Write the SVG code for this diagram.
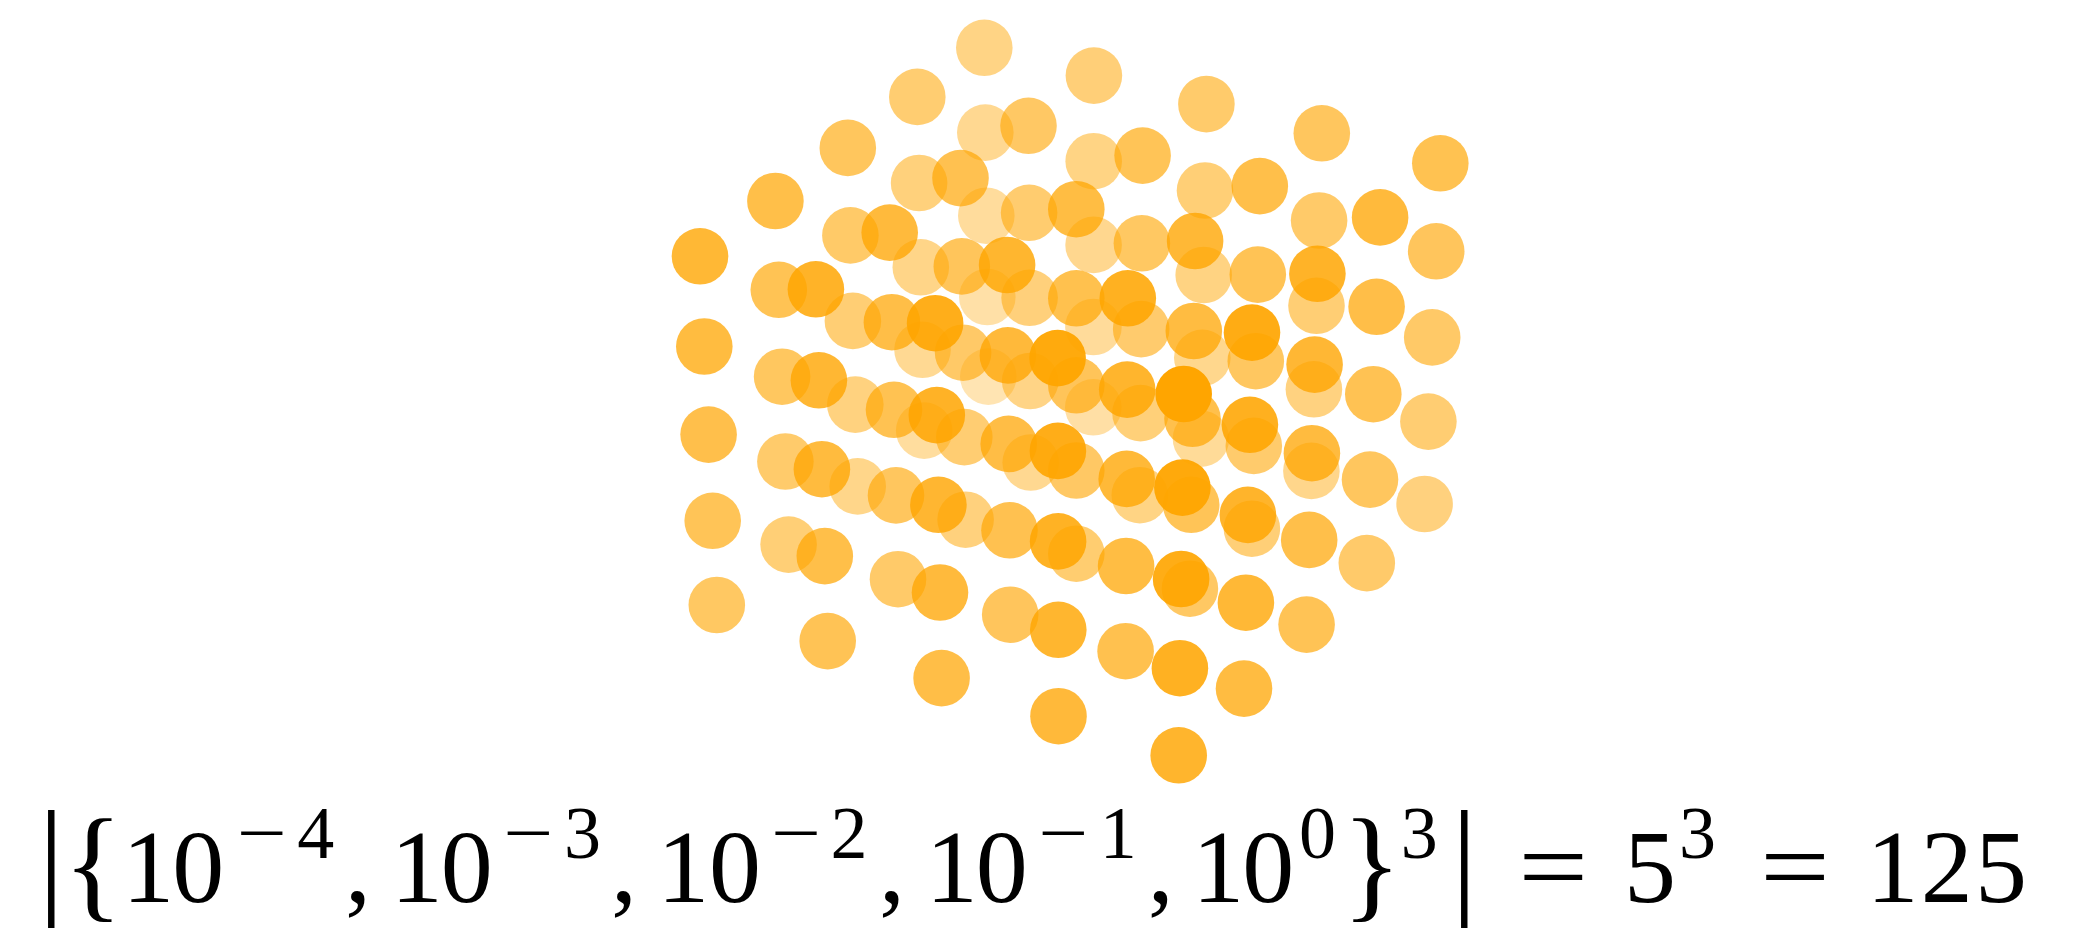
<svg xmlns="http://www.w3.org/2000/svg" width="2085" height="932" viewBox="0 0 2085 932">
<style>
#points circle{fill:#FFA500;}
text{font-family:"Liberation Serif","Times New Roman",serif;fill:#000;text-anchor:middle;}
.m{font-size:104px;}
.s{font-size:74px;}
.d{font-size:130px;}
.b{font-size:124px;}
</style>
<rect width="2085" height="932" fill="#fff"/>
<g id="points">
<circle cx="988.3" cy="376.6" r="28.3" fill-opacity=".300"/>
<circle cx="987.3" cy="297.0" r="28.3" fill-opacity=".344"/>
<circle cx="1093.3" cy="407.3" r="28.3" fill-opacity=".352"/>
<circle cx="924.2" cy="430.6" r="28.3" fill-opacity=".379"/>
<circle cx="986.3" cy="215.7" r="28.3" fill-opacity=".388"/>
<circle cx="1093.4" cy="327.0" r="28.3" fill-opacity=".396"/>
<circle cx="1201.0" cy="438.7" r="28.3" fill-opacity=".403"/>
<circle cx="922.5" cy="349.8" r="28.3" fill-opacity=".423"/>
<circle cx="1030.7" cy="462.5" r="28.3" fill-opacity=".431"/>
<circle cx="985.3" cy="132.6" r="28.3" fill-opacity=".433"/>
<circle cx="1093.6" cy="244.9" r="28.3" fill-opacity=".440"/>
<circle cx="1202.3" cy="357.8" r="28.3" fill-opacity=".448"/>
<circle cx="1311.4" cy="470.9" r="28.3" fill-opacity=".455"/>
<circle cx="857.7" cy="486.4" r="28.3" fill-opacity=".458"/>
<circle cx="920.8" cy="267.3" r="28.3" fill-opacity=".467"/>
<circle cx="1030.2" cy="381.0" r="28.3" fill-opacity=".475"/>
<circle cx="984.3" cy="47.8" r="28.3" fill-opacity=".477"/>
<circle cx="1139.8" cy="495.2" r="28.3" fill-opacity=".483"/>
<circle cx="1093.7" cy="161.2" r="28.3" fill-opacity=".484"/>
<circle cx="1203.7" cy="275.0" r="28.3" fill-opacity=".492"/>
<circle cx="1313.9" cy="389.3" r="28.3" fill-opacity=".499"/>
<circle cx="855.3" cy="404.6" r="28.3" fill-opacity=".502"/>
<circle cx="1424.6" cy="504.0" r="28.3" fill-opacity=".507"/>
<circle cx="965.6" cy="519.7" r="28.3" fill-opacity=".510"/>
<circle cx="919.1" cy="183.0" r="28.3" fill-opacity=".512"/>
<circle cx="1029.6" cy="297.8" r="28.3" fill-opacity=".519"/>
<circle cx="1140.5" cy="413.1" r="28.3" fill-opacity=".527"/>
<circle cx="1093.9" cy="75.6" r="28.3" fill-opacity=".529"/>
<circle cx="1251.9" cy="528.7" r="28.3" fill-opacity=".534"/>
<circle cx="1205.0" cy="190.5" r="28.3" fill-opacity=".536"/>
<circle cx="788.6" cy="544.6" r="28.3" fill-opacity=".537"/>
<circle cx="1316.5" cy="305.8" r="28.3" fill-opacity=".544"/>
<circle cx="852.9" cy="320.9" r="28.3" fill-opacity=".547"/>
<circle cx="1428.4" cy="421.6" r="28.3" fill-opacity=".551"/>
<circle cx="964.3" cy="437.1" r="28.3" fill-opacity=".554"/>
<circle cx="917.3" cy="96.9" r="28.3" fill-opacity=".556"/>
<circle cx="1076.3" cy="553.7" r="28.3" fill-opacity=".562"/>
<circle cx="1029.1" cy="212.8" r="28.3" fill-opacity=".563"/>
<circle cx="1141.2" cy="329.1" r="28.3" fill-opacity=".571"/>
<circle cx="1253.8" cy="445.9" r="28.3" fill-opacity=".578"/>
<circle cx="1206.4" cy="104.1" r="28.3" fill-opacity=".580"/>
<circle cx="785.4" cy="461.5" r="28.3" fill-opacity=".581"/>
<circle cx="1366.8" cy="563.1" r="28.3" fill-opacity=".586"/>
<circle cx="1319.1" cy="220.5" r="28.3" fill-opacity=".588"/>
<circle cx="898.0" cy="579.2" r="28.3" fill-opacity=".589"/>
<circle cx="850.4" cy="235.4" r="28.3" fill-opacity=".591"/>
<circle cx="1432.2" cy="337.4" r="28.3" fill-opacity=".595"/>
<circle cx="963.1" cy="352.7" r="28.3" fill-opacity=".598"/>
<circle cx="1076.3" cy="470.5" r="28.3" fill-opacity=".606"/>
<circle cx="1028.5" cy="125.8" r="28.3" fill-opacity=".608"/>
<circle cx="1189.9" cy="588.7" r="28.3" fill-opacity=".613"/>
<circle cx="1141.9" cy="243.3" r="28.3" fill-opacity=".615"/>
<circle cx="716.8" cy="605.0" r="28.3" fill-opacity=".616"/>
<circle cx="1255.8" cy="361.2" r="28.3" fill-opacity=".623"/>
<circle cx="782.1" cy="376.7" r="28.3" fill-opacity=".626"/>
<circle cx="1370.0" cy="479.6" r="28.3" fill-opacity=".630"/>
<circle cx="1321.8" cy="133.3" r="28.3" fill-opacity=".632"/>
<circle cx="896.0" cy="495.4" r="28.3" fill-opacity=".633"/>
<circle cx="847.8" cy="147.9" r="28.3" fill-opacity=".635"/>
<circle cx="1436.2" cy="251.3" r="28.3" fill-opacity=".640"/>
<circle cx="1010.2" cy="614.7" r="28.3" fill-opacity=".641"/>
<circle cx="961.8" cy="266.4" r="28.3" fill-opacity=".642"/>
<circle cx="1076.3" cy="385.3" r="28.3" fill-opacity=".650"/>
<circle cx="1191.2" cy="504.8" r="28.3" fill-opacity=".658"/>
<circle cx="1142.6" cy="155.6" r="28.3" fill-opacity=".659"/>
<circle cx="712.7" cy="520.8" r="28.3" fill-opacity=".660"/>
<circle cx="1306.6" cy="624.6" r="28.3" fill-opacity=".665"/>
<circle cx="1257.8" cy="274.6" r="28.3" fill-opacity=".667"/>
<circle cx="827.7" cy="641.1" r="28.3" fill-opacity=".668"/>
<circle cx="778.8" cy="289.8" r="28.3" fill-opacity=".670"/>
<circle cx="1373.3" cy="394.2" r="28.3" fill-opacity=".674"/>
<circle cx="894.0" cy="409.8" r="28.3" fill-opacity=".677"/>
<circle cx="1440.3" cy="163.3" r="28.3" fill-opacity=".684"/>
<circle cx="1009.5" cy="530.3" r="28.3" fill-opacity=".685"/>
<circle cx="960.5" cy="178.1" r="28.3" fill-opacity=".687"/>
<circle cx="1125.6" cy="651.2" r="28.3" fill-opacity=".692"/>
<circle cx="1076.3" cy="298.3" r="28.3" fill-opacity=".694"/>
<circle cx="1192.5" cy="418.8" r="28.3" fill-opacity=".702"/>
<circle cx="708.6" cy="434.6" r="28.3" fill-opacity=".705"/>
<circle cx="1309.2" cy="539.9" r="28.3" fill-opacity=".709"/>
<circle cx="1259.8" cy="186.1" r="28.3" fill-opacity=".711"/>
<circle cx="824.8" cy="556.1" r="28.3" fill-opacity=".712"/>
<circle cx="775.4" cy="201.0" r="28.3" fill-opacity=".714"/>
<circle cx="1376.6" cy="306.8" r="28.3" fill-opacity=".719"/>
<circle cx="941.6" cy="678.1" r="28.3" fill-opacity=".720"/>
<circle cx="891.9" cy="322.2" r="28.3" fill-opacity=".722"/>
<circle cx="1008.7" cy="443.9" r="28.3" fill-opacity=".729"/>
<circle cx="1126.1" cy="566.0" r="28.3" fill-opacity=".737"/>
<circle cx="1076.3" cy="209.2" r="28.3" fill-opacity=".738"/>
<circle cx="1244.0" cy="688.6" r="28.3" fill-opacity=".744"/>
<circle cx="1193.8" cy="331.0" r="28.3" fill-opacity=".746"/>
<circle cx="704.3" cy="346.5" r="28.3" fill-opacity=".749"/>
<circle cx="1311.9" cy="453.2" r="28.3" fill-opacity=".753"/>
<circle cx="821.9" cy="469.2" r="28.3" fill-opacity=".756"/>
<circle cx="1380.1" cy="217.4" r="28.3" fill-opacity=".763"/>
<circle cx="940.0" cy="592.5" r="28.3" fill-opacity=".764"/>
<circle cx="889.7" cy="232.6" r="28.3" fill-opacity=".766"/>
<circle cx="1058.5" cy="716.2" r="28.3" fill-opacity=".771"/>
<circle cx="1007.9" cy="355.4" r="28.3" fill-opacity=".773"/>
<circle cx="1126.7" cy="478.9" r="28.3" fill-opacity=".781"/>
<circle cx="1245.9" cy="602.7" r="28.3" fill-opacity=".788"/>
<circle cx="1195.1" cy="241.0" r="28.3" fill-opacity=".790"/>
<circle cx="700.0" cy="256.3" r="28.3" fill-opacity=".793"/>
<circle cx="1314.6" cy="364.6" r="28.3" fill-opacity=".798"/>
<circle cx="818.9" cy="380.3" r="28.3" fill-opacity=".801"/>
<circle cx="938.4" cy="504.8" r="28.3" fill-opacity=".808"/>
<circle cx="1058.3" cy="629.8" r="28.3" fill-opacity=".816"/>
<circle cx="1007.1" cy="265.0" r="28.3" fill-opacity=".817"/>
<circle cx="1178.7" cy="755.3" r="28.3" fill-opacity=".823"/>
<circle cx="1127.2" cy="389.6" r="28.3" fill-opacity=".825"/>
<circle cx="1247.9" cy="514.9" r="28.3" fill-opacity=".833"/>
<circle cx="1317.4" cy="273.8" r="28.3" fill-opacity=".842"/>
<circle cx="815.9" cy="289.3" r="28.3" fill-opacity=".845"/>
<circle cx="936.8" cy="415.1" r="28.3" fill-opacity=".852"/>
<circle cx="1058.1" cy="541.4" r="28.3" fill-opacity=".860"/>
<circle cx="1179.9" cy="668.2" r="28.3" fill-opacity=".867"/>
<circle cx="1127.8" cy="298.3" r="28.3" fill-opacity=".869"/>
<circle cx="1249.9" cy="424.8" r="28.3" fill-opacity=".877"/>
<circle cx="935.1" cy="323.2" r="28.3" fill-opacity=".897"/>
<circle cx="1057.9" cy="450.9" r="28.3" fill-opacity=".904"/>
<circle cx="1181.1" cy="579.0" r="28.3" fill-opacity=".912"/>
<circle cx="1252.0" cy="332.6" r="28.3" fill-opacity=".921"/>
<circle cx="1057.6" cy="358.1" r="28.3" fill-opacity=".948"/>
<circle cx="1182.4" cy="487.6" r="28.3" fill-opacity=".956"/>
<circle cx="1183.7" cy="394.0" r="28.3" fill-opacity="1"/>
</g>
<g id="formula">
<text class="d" x="51.2" y="900">|</text>
<text class="b" x="93" y="905">{</text>
<text class="m" x="148.3" y="902">1</text>
<text class="m" x="198.3" y="902">0</text>
<text class="s" x="261.7" y="858" textLength="50" lengthAdjust="spacingAndGlyphs">−</text>
<text class="s" x="315.8" y="858">4</text>
<text class="m" x="358" y="902">,</text>
<text class="m" x="416.7" y="902">1</text>
<text class="m" x="466.7" y="902">0</text>
<text class="s" x="528.3" y="858" textLength="50" lengthAdjust="spacingAndGlyphs">−</text>
<text class="s" x="582.5" y="858">3</text>
<text class="m" x="624" y="902">,</text>
<text class="m" x="683.3" y="902">1</text>
<text class="m" x="735" y="902">0</text>
<text class="s" x="796" y="858" textLength="50" lengthAdjust="spacingAndGlyphs">−</text>
<text class="s" x="849" y="858">2</text>
<text class="m" x="892" y="902">,</text>
<text class="m" x="951.7" y="902">1</text>
<text class="m" x="1001.7" y="902">0</text>
<text class="s" x="1063.3" y="858" textLength="50" lengthAdjust="spacingAndGlyphs">−</text>
<text class="s" x="1118.3" y="858">1</text>
<text class="m" x="1160.8" y="902">,</text>
<text class="m" x="1218.3" y="902">1</text>
<text class="m" x="1268.3" y="902">0</text>
<text class="s" x="1317.5" y="858">0</text>
<text class="b" x="1371.7" y="905">}</text>
<text class="s" x="1419.2" y="858">3</text>
<text class="d" x="1464.2" y="900">|</text>
<text class="m" x="1553.3" y="902" textLength="70" lengthAdjust="spacingAndGlyphs">=</text>
<text class="m" x="1650" y="902">5</text>
<text class="s" x="1697.5" y="858">3</text>
<text class="m" x="1795" y="902" textLength="70" lengthAdjust="spacingAndGlyphs">=</text>
<text class="m" x="1892.5" y="902">1</text>
<text class="m" x="1946.7" y="902">2</text>
<text class="m" x="2000.9" y="902">5</text>
</g>
</svg>
